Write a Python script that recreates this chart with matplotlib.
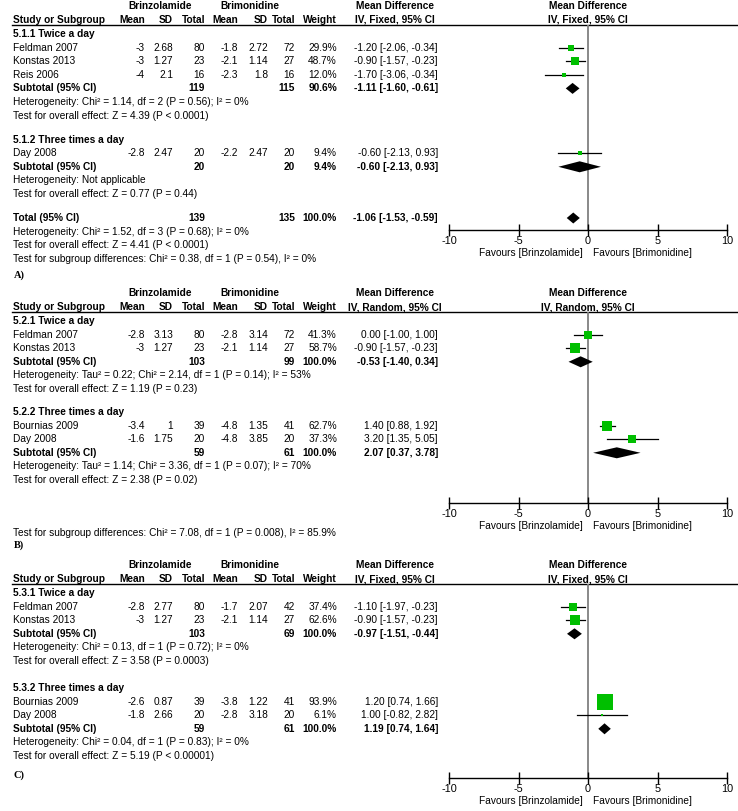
import matplotlib
matplotlib.use("Agg")
import matplotlib.pyplot as plt

W, H = 738, 811

# ---------------- data: panel A (fixed effect) ----------------
a_study = ["Feldman 2007", "Konstas 2013", "Reis 2006", "Day 2008"]
a_grp = [0, 0, 0, 1]
a_m1 = [-3, -3, -4, -2.8]
a_sd1 = [2.68, 1.27, 2.1, 2.47]
a_n1 = [80, 23, 16, 20]
a_m2 = [-1.8, -2.1, -2.3, -2.2]
a_sd2 = [2.72, 1.14, 1.8, 2.47]
a_n2 = [72, 27, 16, 20]
a_w = [29.9, 48.7, 12.0, 9.4]
a_md = [-1.20, -0.90, -1.70, -0.60]
a_lo = [-2.06, -1.57, -3.06, -2.13]
a_hi = [-0.34, -0.23, -0.34, 0.93]
a_sub = ["5.1.1 Twice a day", "5.1.2 Three times a day"]
a_sub_n1 = [119, 20]
a_sub_n2 = [115, 20]
a_sub_w = [90.6, 9.4]
a_sub_md = [-1.11, -0.60]
a_sub_lo = [-1.60, -2.13]
a_sub_hi = [-0.61, 0.93]
a_het = ["Heterogeneity: Chi² = 1.14, df = 2 (P = 0.56); I² = 0%",
         "Heterogeneity: Not applicable"]
a_z = ["Test for overall effect: Z = 4.39 (P < 0.0001)",
       "Test for overall effect: Z = 0.77 (P = 0.44)"]
a_tot = [139, 135, 100.0, -1.06, -1.53, -0.59]
a_tot_het = "Heterogeneity: Chi² = 1.52, df = 3 (P = 0.68); I² = 0%"
a_tot_z = "Test for overall effect: Z = 4.41 (P < 0.0001)"
a_diff = "Test for subgroup differences: Chi² = 0.38, df = 1 (P = 0.54), I² = 0%"

# ---------------- data: panel B (random effects) ----------------
b_study = ["Feldman 2007", "Konstas 2013", "Bournias 2009", "Day 2008"]
b_grp = [0, 0, 1, 1]
b_m1 = [-2.8, -3, -3.4, -1.6]
b_sd1 = [3.13, 1.27, 1, 1.75]
b_n1 = [80, 23, 39, 20]
b_m2 = [-2.8, -2.1, -4.8, -4.8]
b_sd2 = [3.14, 1.14, 1.35, 3.85]
b_n2 = [72, 27, 41, 20]
b_w = [41.3, 58.7, 62.7, 37.3]
b_md = [0.00, -0.90, 1.40, 3.20]
b_lo = [-1.00, -1.57, 0.88, 1.35]
b_hi = [1.00, -0.23, 1.92, 5.05]
b_sub = ["5.2.1 Twice a day", "5.2.2 Three times a day"]
b_sub_n1 = [103, 59]
b_sub_n2 = [99, 61]
b_sub_w = [100.0, 100.0]
b_sub_md = [-0.53, 2.07]
b_sub_lo = [-1.40, 0.37]
b_sub_hi = [0.34, 3.78]
b_het = ["Heterogeneity: Tau² = 0.22; Chi² = 2.14, df = 1 (P = 0.14); I² = 53%",
         "Heterogeneity: Tau² = 1.14; Chi² = 3.36, df = 1 (P = 0.07); I² = 70%"]
b_z = ["Test for overall effect: Z = 1.19 (P = 0.23)",
       "Test for overall effect: Z = 2.38 (P = 0.02)"]
b_diff = "Test for subgroup differences: Chi² = 7.08, df = 1 (P = 0.008), I² = 85.9%"

# ---------------- data: panel C (fixed effect) ----------------
c_study = ["Feldman 2007", "Konstas 2013", "Bournias 2009", "Day 2008"]
c_grp = [0, 0, 1, 1]
c_m1 = [-2.8, -3, -2.6, -1.8]
c_sd1 = [2.77, 1.27, 0.87, 2.66]
c_n1 = [80, 23, 39, 20]
c_m2 = [-1.7, -2.1, -3.8, -2.8]
c_sd2 = [2.07, 1.14, 1.22, 3.18]
c_n2 = [42, 27, 41, 20]
c_w = [37.4, 62.6, 93.9, 6.1]
c_md = [-1.10, -0.90, 1.20, 1.00]
c_lo = [-1.97, -1.57, 0.74, -0.82]
c_hi = [-0.23, -0.23, 1.66, 2.82]
c_sub = ["5.3.1 Twice a day", "5.3.2 Three times a day"]
c_sub_n1 = [103, 59]
c_sub_n2 = [69, 61]
c_sub_w = [100.0, 100.0]
c_sub_md = [-0.97, 1.19]
c_sub_lo = [-1.51, 0.74]
c_sub_hi = [-0.44, 1.64]
c_het = ["Heterogeneity: Chi² = 0.13, df = 1 (P = 0.72); I² = 0%",
         "Heterogeneity: Chi² = 0.04, df = 1 (P = 0.83); I² = 0%"]
c_z = ["Test for overall effect: Z = 3.58 (P = 0.0003)",
       "Test for overall effect: Z = 5.19 (P < 0.00001)"]

ticks = [-10, -5, 0, 5, 10]
tick_labels = ["-10", "-5", "0", "5", "10"]

# ---------------- layout (pixels) ----------------
FS = 7.3
FONT = "Liberation Sans"
GREEN = "#00BF00"
ROW = 13.6
X_STUDY = 13
COLS = [145, 173, 205, 238, 268, 295, 337]   # right edges of numeric columns
X_GRP1, X_GRP2 = 160, 250
X_MD = 438
X_MD_HEAD = 395
FX0, FX1 = 449, 727                          # forest plot -10 .. 10

fig = plt.figure(figsize=(W / 100, H / 100), dpi=100)
bg = fig.add_axes([0, 0, 1, 1])
bg.set_xlim(0, W)
bg.set_ylim(H, 0)
bg.axis("off")


def txt(x, y, s, ha="left", bold=False, **kw):
    bg.text(x, y, s, ha=ha, va="center", fontsize=FS, family=FONT,
            fontweight="bold" if bold else "normal", **kw)


def fmt_md(m, l, h):
    return "{:.2f} [{:.2f}, {:.2f}]".format(m, l, h)


def draw_panel(p):
    top = p["top"]
    y_line = top + 18.5
    method = p["method"]
    # column headers
    txt(X_GRP1, top, "Brinzolamide", ha="center", bold=True)
    txt(X_GRP2, top, "Brimonidine", ha="center", bold=True)
    txt(X_MD_HEAD, top, "Mean Difference", ha="center", bold=True)
    txt(588, top, "Mean Difference", ha="center", bold=True)
    y2 = top + 14
    txt(X_STUDY, y2, "Study or Subgroup", bold=True)
    for x, s in zip(COLS, ["Mean", "SD", "Total", "Mean", "SD", "Total", "Weight"]):
        txt(x, y2, s, ha="right", bold=True)
    txt(X_MD_HEAD, y2, method, ha="center", bold=True)
    txt(588, y2, method, ha="center", bold=True)
    bg.plot([12, W], [y_line, y_line], color="black", lw=1.0)

    # forest axes, y in figure pixels
    ya = p["axis_y"]
    ax = fig.add_axes([FX0 / W, 1 - ya / H, (FX1 - FX0) / W, (ya - y_line) / H])
    ax.set_xlim(-10, 10)
    ax.set_ylim(ya, y_line)
    ax.patch.set_visible(False)
    for s in ["top", "left", "right"]:
        ax.spines[s].set_visible(False)
    ax.spines["bottom"].set_linewidth(1.0)
    ax.set_yticks([])
    ax.set_xticks(ticks)
    ax.set_xticklabels(tick_labels, fontsize=FS + 0.5, family=FONT)
    ax.tick_params(axis="x", direction="inout", length=8, width=1.0, pad=0)
    ax.axvline(0, color="#808080", lw=1.3, zorder=1)
    txt(583, ya + 23, "Favours [Brinzolamide]", ha="right")
    txt(593, ya + 23, "Favours [Brimonidine]", ha="left")

    y = p["first"]
    for g in range(2):
        txt(X_STUDY, y, p["sub"][g], bold=True)
        y += ROW
        for i in range(len(p["study"])):
            if p["grp"][i] != g:
                continue
            txt(X_STUDY, y, p["study"][i])
            vals = ["{:g}".format(p["m1"][i]), "{:g}".format(p["sd1"][i]), str(p["n1"][i]),
                    "{:g}".format(p["m2"][i]), "{:g}".format(p["sd2"][i]), str(p["n2"][i]),
                    "{:.1f}%".format(p["w"][i])]
            for x, s in zip(COLS, vals):
                txt(x, y, s, ha="right")
            txt(X_MD, y, fmt_md(p["md"][i], p["lo"][i], p["hi"][i]), ha="right")
            ax.plot([p["lo"][i], p["hi"][i]], [y, y], color="black", lw=0.9, zorder=2)
            # square side grows with study weight
            side = 2.0 + 0.14 * p["w"][i]
            ax.plot(p["md"][i], y, marker="s", ms=side * 0.72, color=GREEN,
                    mec=GREEN, mew=0, zorder=3)
            y += ROW
        # subtotal
        txt(X_STUDY, y, "Subtotal (95% CI)", bold=True)
        txt(COLS[2], y, str(p["sub_n1"][g]), ha="right", bold=True)
        txt(COLS[5], y, str(p["sub_n2"][g]), ha="right", bold=True)
        txt(COLS[6], y, "{:.1f}%".format(p["sub_w"][g]), ha="right", bold=True)
        md, lo, hi = p["sub_md"][g], p["sub_lo"][g], p["sub_hi"][g]
        txt(X_MD, y, fmt_md(md, lo, hi), ha="right", bold=True)
        ax.fill([lo, md, hi, md], [y, y - 5.5, y, y + 5.5], color="black", lw=0, zorder=3)
        y += ROW
        txt(X_STUDY, y, p["het"][g])
        y += ROW
        txt(X_STUDY, y, p["z"][g])
        y += p["gap"]
    return ax, y


panels = [
    dict(top=6, first=34, gap=24, axis_y=230, method="IV, Fixed, 95% CI",
         study=a_study, grp=a_grp, m1=a_m1, sd1=a_sd1, n1=a_n1, m2=a_m2, sd2=a_sd2,
         n2=a_n2, w=a_w, md=a_md, lo=a_lo, hi=a_hi, sub=a_sub, sub_n1=a_sub_n1,
         sub_n2=a_sub_n2, sub_w=a_sub_w, sub_md=a_sub_md, sub_lo=a_sub_lo,
         sub_hi=a_sub_hi, het=a_het, z=a_z),
    dict(top=293, first=321, gap=23, axis_y=503, method="IV, Random, 95% CI",
         study=b_study, grp=b_grp, m1=b_m1, sd1=b_sd1, n1=b_n1, m2=b_m2, sd2=b_sd2,
         n2=b_n2, w=b_w, md=b_md, lo=b_lo, hi=b_hi, sub=b_sub, sub_n1=b_sub_n1,
         sub_n2=b_sub_n2, sub_w=b_sub_w, sub_md=b_sub_md, sub_lo=b_sub_lo,
         sub_hi=b_sub_hi, het=b_het, z=b_z),
    dict(top=565, first=593, gap=27, axis_y=778, method="IV, Fixed, 95% CI",
         study=c_study, grp=c_grp, m1=c_m1, sd1=c_sd1, n1=c_n1, m2=c_m2, sd2=c_sd2,
         n2=c_n2, w=c_w, md=c_md, lo=c_lo, hi=c_hi, sub=c_sub, sub_n1=c_sub_n1,
         sub_n2=c_sub_n2, sub_w=c_sub_w, sub_md=c_sub_md, sub_lo=c_sub_lo,
         sub_hi=c_sub_hi, het=c_het, z=c_z),
]

# panel A with overall total
axA, y = draw_panel(panels[0])
txt(X_STUDY, y, "Total (95% CI)", bold=True)
txt(COLS[2], y, str(a_tot[0]), ha="right", bold=True)
txt(COLS[5], y, str(a_tot[1]), ha="right", bold=True)
txt(COLS[6], y, "{:.1f}%".format(a_tot[2]), ha="right", bold=True)
txt(X_MD, y, fmt_md(*a_tot[3:]), ha="right", bold=True)
md, lo, hi = a_tot[3:]
axA.fill([lo, md, hi, md], [y, y - 5.5, y, y + 5.5], color="black", lw=0, zorder=3)
txt(X_STUDY, y + ROW, a_tot_het)
txt(X_STUDY, y + 2 * ROW, a_tot_z)
txt(X_STUDY, y + 3 * ROW, a_diff)

draw_panel(panels[1])
txt(X_STUDY, 533, b_diff)

draw_panel(panels[2])

for lab, yl in [("A)", 275), ("B)", 545), ("C)", 775)]:
    bg.text(14, yl, lab, ha="left", va="center", fontsize=7.5,
            family="Liberation Serif", fontweight="bold")

fig.savefig("out.png", dpi=100)
